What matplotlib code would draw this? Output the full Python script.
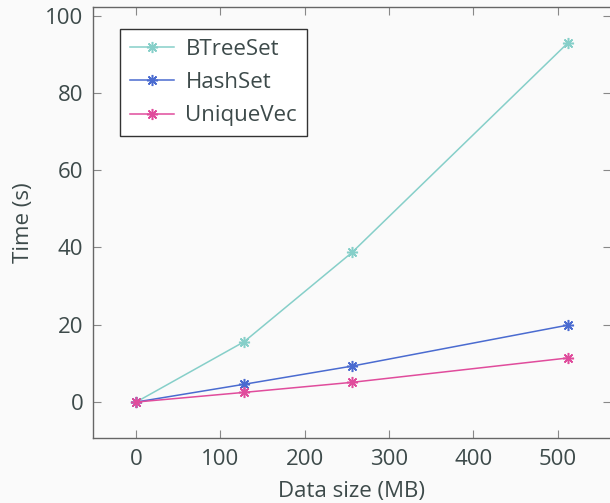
import matplotlib
matplotlib.use("Agg")
import matplotlib.pyplot as plt

sizes = [0, 128, 256, 512]
btree = [0, 15.6, 38.7, 92.9]
hashset = [0, 4.6, 9.3, 19.9]
uniquevec = [0, 2.5, 5.1, 11.4]

names = ["BTreeSet", "HashSet", "UniqueVec"]
colors = ["#86cfc9", "#4a6bd0", "#e04c9c"]

txt = "#3d4a4a"
plt.rcParams["font.family"] = ["Open Sans", "DejaVu Sans"]
fs = 16

fig = plt.figure(figsize=(6.1, 5.03), dpi=100, facecolor="#fafafa")
ax = fig.add_axes([93 / 610, 65 / 503, 518 / 610, 431 / 503])
ax.set_facecolor("#fafafa")

for ys, name, c in zip([btree, hashset, uniquevec], names, colors):
    ax.plot(sizes, ys, color=c, lw=1.1, marker=(8, 2, 0), ms=8, mew=1.1,
            label=name)

ax.set_xlim(-51.2, 563.2)
ax.set_ylim(-9.3, 102.2)
ax.set_xticks([0, 100, 200, 300, 400, 500])
ax.set_yticks([0, 20, 40, 60, 80, 100])
ax.tick_params(direction="in", length=6, color="#888888", top=True,
               right=True, labelcolor=txt, labelsize=fs)
ax.tick_params(axis="x", pad=8)
ax.tick_params(axis="y", pad=7)
for s in ax.spines.values():
    s.set_color("#666666")
    s.set_linewidth(1)

ax.set_xlabel("Data size (MB)", color=txt, fontsize=fs, labelpad=8)
ax.set_ylabel("Time (s)", color=txt, fontsize=fs, labelpad=8)

leg = ax.legend(loc="upper left", bbox_to_anchor=(0.052, 0.949),
                borderaxespad=0, fancybox=False,
                edgecolor="#333333", framealpha=1, fontsize=fs,
                handlelength=2.0, borderpad=0.45, labelspacing=0.55,
                handletextpad=0.5)
leg.get_frame().set_linewidth(1)
for t in leg.get_texts():
    t.set_color(txt)

fig.savefig("out.png", dpi=100, facecolor=fig.get_facecolor())
